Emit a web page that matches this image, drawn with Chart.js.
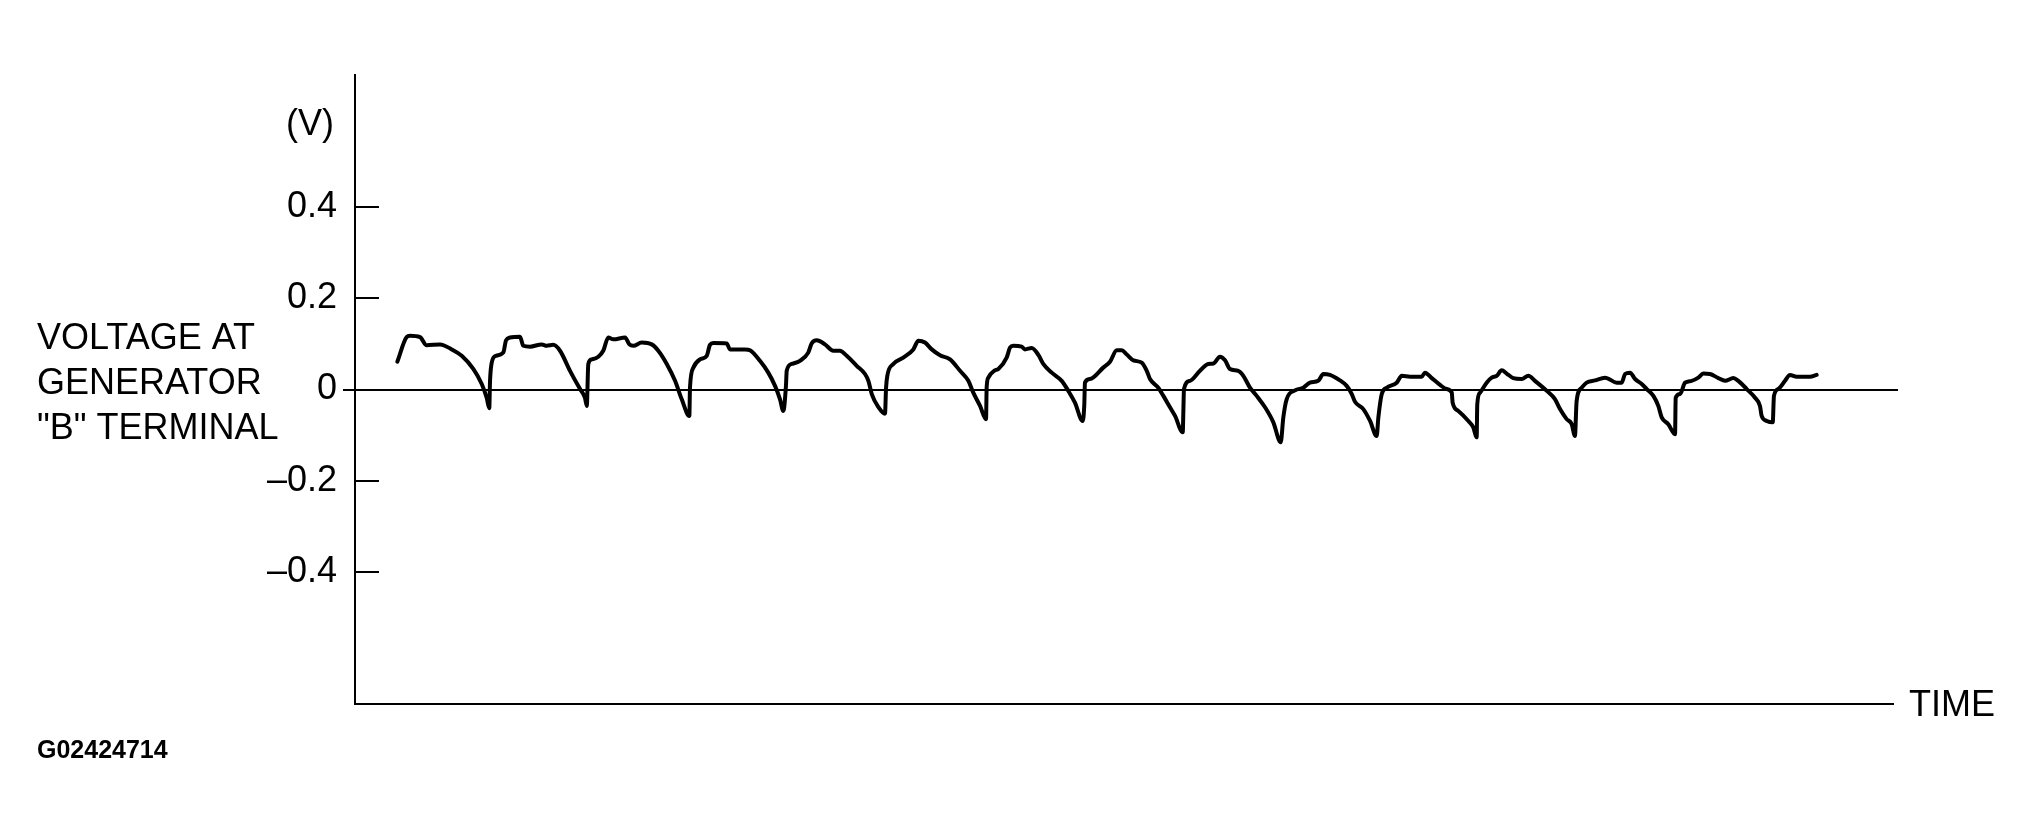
<!DOCTYPE html>
<html>
<head>
<meta charset="utf-8">
<title>Voltage at generator B terminal</title>
<script src="https://cdn.jsdelivr.net/npm/chart.js@4/dist/chart.umd.min.js"></script>
<style>
  html, body { margin: 0; padding: 0; background: #fff; overflow: hidden; }
  canvas { display: block; }
</style>
</head>
<body>
<canvas id="waveChart" width="2031" height="833" style="width:2031px;height:833px"></canvas>
<script>
// time in arbitrary units (0..100 along the TIME axis)
const timeValues = [
  2.75, 3.36, 3.58, 4.23, 4.66, 5.53, 6.29, 6.94, 7.69, 8.24, 8.56, 8.73,
  8.78, 8.89, 9.17, 9.64, 9.82, 10.08, 10.73, 10.94, 11.38, 12.14, 12.46, 12.89,
  13.33, 13.98, 14.63, 14.95, 15.07, 15.17, 15.39, 15.82, 16.14, 16.47, 16.80, 17.56,
  17.84, 18.10, 18.64, 19.29, 19.72, 20.27, 20.81, 21.24, 21.74, 21.78, 22.00, 22.43,
  22.87, 23.08, 23.30, 24.17, 24.38, 25.36, 25.68, 26.33, 26.87, 27.31, 27.63, 27.85,
  28.02, 28.07, 28.39, 28.93, 29.47, 29.69, 30.02, 30.56, 31.10, 31.53, 31.97, 32.62,
  33.16, 33.38, 33.60, 34.02, 34.46, 34.53, 34.61, 35.00, 35.65, 36.30, 36.63, 37.06,
  37.50, 38.04, 38.69, 39.34, 39.88, 40.20, 40.64, 41.03, 41.07, 41.18, 41.61, 41.83,
  42.37, 42.59, 42.80, 43.35, 43.56, 44.00, 44.43, 44.75, 45.30, 45.95, 46.38, 46.81,
  47.31, 47.42, 47.46, 47.79, 48.65, 49.09, 49.53, 49.85, 50.18, 50.61, 51.15, 51.48,
  51.69, 52.23, 52.56, 52.99, 53.32, 53.82, 53.86, 53.90, 54.29, 54.94, 55.48, 55.81,
  56.24, 56.57, 56.89, 57.43, 57.76, 58.19, 58.63, 59.17, 59.71, 60.19, 60.36, 60.58,
  61.12, 61.66, 62.09, 62.63, 62.96, 63.39, 64.04, 64.48, 64.81, 65.02, 65.56, 66.00,
  66.43, 66.54, 66.76, 67.08, 67.73, 68.06, 68.60, 69.36, 69.57, 70.01, 70.55, 70.98,
  71.31, 71.37, 71.74, 72.39, 72.71, 72.93, 72.97, 73.15, 73.58, 73.91, 74.23, 74.56,
  74.88, 75.31, 75.86, 76.29, 76.72, 77.49, 78.02, 78.35, 78.78, 79.11, 79.32, 79.43,
  79.76, 80.08, 80.62, 81.28, 82.04, 82.36, 82.58, 82.90, 83.23, 83.66, 83.99, 84.42,
  84.74, 84.96, 85.39, 85.83, 85.87, 86.15, 86.48, 86.91, 87.34, 87.67, 88.10, 88.64,
  89.08, 89.62, 89.94, 90.49, 91.03, 91.35, 91.46, 91.79, 92.18, 92.26, 92.54, 92.98,
  93.30, 93.74, 94.60, 95.04
];

// volts
const voltageValues = [
  0.061, 0.115, 0.118, 0.115, 0.097, 0.099, 0.088, 0.074, 0.045, 0.012, -0.018, -0.041,
  0.019, 0.059, 0.074, 0.081, 0.108, 0.114, 0.116, 0.096, 0.094, 0.099, 0.096, 0.098,
  0.085, 0.041, 0.001, -0.018, -0.036, 0.056, 0.066, 0.072, 0.085, 0.114, 0.110, 0.114,
  0.099, 0.096, 0.103, 0.099, 0.085, 0.056, 0.019, -0.021, -0.058, 0.004, 0.048, 0.066,
  0.074, 0.098, 0.102, 0.101, 0.088, 0.088, 0.086, 0.063, 0.037, 0.008, -0.021, -0.047,
  0.008, 0.041, 0.056, 0.063, 0.081, 0.101, 0.108, 0.099, 0.085, 0.085, 0.074, 0.052,
  0.034, 0.019, -0.010, -0.038, -0.053, 0.004, 0.030, 0.056, 0.070, 0.088, 0.107, 0.103,
  0.088, 0.075, 0.066, 0.041, 0.019, -0.007, -0.036, -0.065, 0.004, 0.026, 0.042, 0.045,
  0.070, 0.092, 0.096, 0.094, 0.088, 0.091, 0.076, 0.056, 0.037, 0.019, -0.003, -0.029,
  -0.069, -0.032, 0.015, 0.023, 0.048, 0.061, 0.086, 0.086, 0.077, 0.064, 0.059, 0.041,
  0.023, 0.004, -0.014, -0.039, -0.058, -0.094, -0.047, 0.001, 0.019, 0.041, 0.056, 0.057,
  0.072, 0.064, 0.045, 0.041, 0.030, 0.004, -0.014, -0.039, -0.072, -0.116, -0.061, -0.021,
  -0.002, 0.004, 0.015, 0.019, 0.034, 0.032, 0.020, 0.008, -0.010, -0.027, -0.043, -0.069,
  -0.102, -0.061, -0.010, 0.004, 0.015, 0.030, 0.028, 0.028, 0.037, 0.025, 0.010, 0.001,
  -0.007, -0.029, -0.047, -0.069, -0.083, -0.105, -0.032, -0.007, 0.015, 0.026, 0.030, 0.042,
  0.035, 0.025, 0.023, 0.030, 0.019, -0.003, -0.021, -0.043, -0.065, -0.076, -0.102, -0.025,
  0.004, 0.015, 0.020, 0.026, 0.015, 0.015, 0.034, 0.037, 0.023, 0.012, 0.001, -0.014,
  -0.036, -0.061, -0.076, -0.098, -0.018, -0.010, 0.015, 0.019, 0.026, 0.035, 0.034, 0.025,
  0.019, 0.025, 0.019, 0.001, -0.018, -0.036, -0.058, -0.069, -0.072, -0.014, 0.001, 0.019,
  0.032, 0.028, 0.028, 0.032
];

const yTickValues = [-0.4, -0.2, 0, 0.2, 0.4];
const yTickLabels = ["\u20130.4", "\u20130.2", "0", "0.2", "0.4"];

const FONT = "'Liberation Sans', Arial, Helvetica, sans-serif";

// tick marks inside the axis, zero line, and the free text labels
const diagramPlugin = {
  id: "diagram",
  beforeDatasetsDraw(chart) {
    const ctx = chart.ctx;
    const area = chart.chartArea;
    const y = chart.scales.y;
    ctx.save();
    ctx.strokeStyle = "#000";
    ctx.lineWidth = 2;
    ctx.beginPath();
    yTickValues.forEach(v => {
      const py = Math.round(y.getPixelForValue(v));
      ctx.moveTo(area.left, py);
      ctx.lineTo(area.left + 24, py);
    });
    const zy = Math.round(y.getPixelForValue(0));
    ctx.moveTo(area.left - 12, zy);
    ctx.lineTo(area.right + 5, zy);
    ctx.stroke();
    ctx.restore();
  },
  afterDraw(chart) {
    const ctx = chart.ctx;
    const area = chart.chartArea;
    ctx.save();
    ctx.fillStyle = "#000";
    ctx.textBaseline = "alphabetic";

    ctx.font = "36px " + FONT;
    ctx.textAlign = "right";
    ctx.fillText("(V)", 334, 135);

    ctx.textAlign = "left";
    ctx.fillText("VOLTAGE AT", 37, 349);
    ctx.fillText("GENERATOR", 37, 394);
    ctx.fillText("\"B\" TERMINAL", 37, 439);

    ctx.fillText("TIME", area.right + 16, area.bottom + 12);

    ctx.font = "bold 25px " + FONT;
    ctx.fillText("G02424714", 37, 758);
    ctx.restore();
  }
};

new Chart(document.getElementById("waveChart"), {
  type: "line",
  data: {
    datasets: [{
      data: timeValues.map((t, i) => ({ x: t, y: voltageValues[i] })),
      borderColor: "#000",
      borderWidth: 4,
      pointRadius: 0,
      cubicInterpolationMode: "monotone",
      borderJoinStyle: "round",
      borderCapStyle: "round",
      fill: false
    }]
  },
  options: {
    responsive: false,
    devicePixelRatio: 1,
    animation: false,
    layout: { padding: { left: 0, right: 138, top: 75, bottom: 129 } },
    plugins: {
      legend: { display: false },
      tooltip: { enabled: false }
    },
    scales: {
      x: {
        type: "linear",
        min: 0,
        max: 100,
        ticks: { display: false },
        grid: { display: false },
        border: { display: true, color: "#000", width: 2 },
        afterFit: s => { s.height = 0; }
      },
      y: {
        type: "linear",
        min: -0.69,
        max: 0.69,
        afterBuildTicks: s => { s.ticks = yTickValues.map(v => ({ value: v })); },
        ticks: {
          color: "#000",
          padding: 18,
          font: { family: FONT, size: 36 },
          callback: v => yTickLabels[yTickValues.indexOf(v)]
        },
        grid: { display: false, drawTicks: false },
        border: { display: true, color: "#000", width: 2 },
        afterFit: s => { s.width = 355; }
      }
    }
  },
  plugins: [diagramPlugin]
});
</script>
</body>
</html>
